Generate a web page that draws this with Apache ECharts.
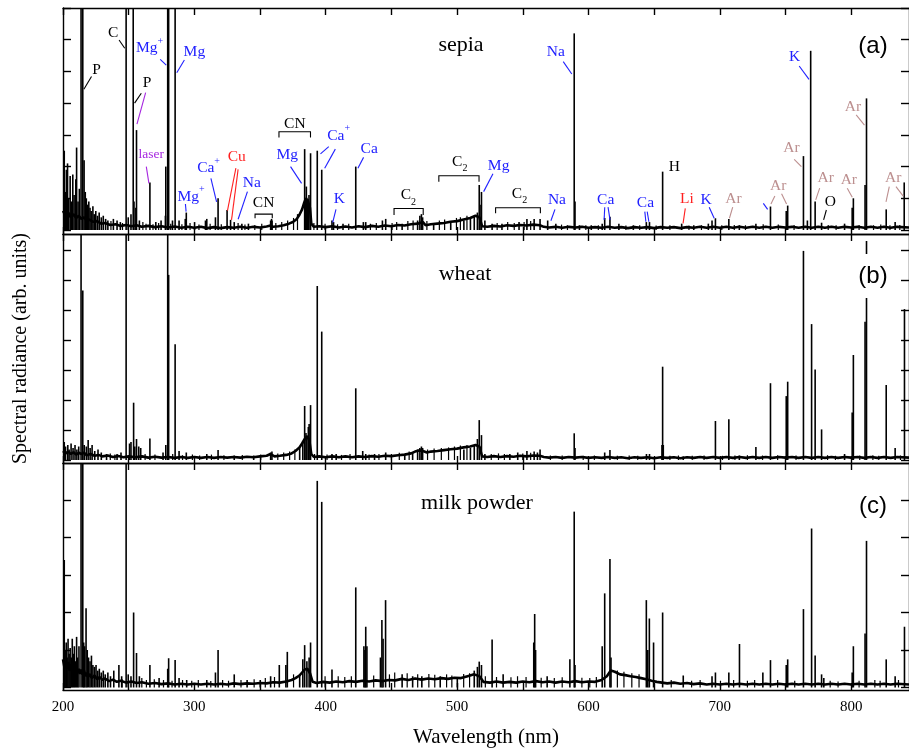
<!DOCTYPE html>
<html>
<head>
<meta charset="utf-8">
<title>LIBS spectra</title>
<script src="https://cdn.jsdelivr.net/npm/echarts@6/dist/echarts.min.js"></script>
<style>
html, body { margin: 0; padding: 0; background: #fff; }
#chart { width: 909px; height: 749px; }
</style>
</head>
<body>
<div id="chart"></div>
<script>
// ---- axis ticks ----
const X_TICKS = [200, 250, 300, 350, 400, 450, 500, 550, 600, 650, 700, 750, 800];
const X_LABELS = [200, 300, 400, 500, 600, 700, 800];
const Y_TICKS_A = [0, 1, 2, 3, 4, 5, 6, 7];
const Y_TICKS_B = [0, 1, 2, 3, 4, 5, 6, 7];
const Y_TICKS_C = [0, 1, 2, 3, 4, 5];

// ---- sepia: emission lines [nm, intensity] ----
const SEPIA_LINES = [
  [200.8,2.5],[201.6,1.2],[202.4,1.9],[203.3,2.1],[204.1,1.0],[205.3,1.7],[206.2,0.9],[207.3,1.75],
  [208.3,1.1],[209.6,1.6],[210.2,2.6],[211.3,0.9],[212.3,1.3],[213.6,9],[214.9,9],[215.9,2.2],
  [216.8,1.2],[217.6,1.0],[218.6,0.8],[219.5,0.9],[220.4,0.7],[221.3,0.6],[222.6,0.75],[223.6,0.5],
  [224.8,0.6],[226.1,0.45],[227.4,0.55],[229.0,0.4],[230.5,0.45],[232.3,0.35],[234.0,0.3],
  [238.2,0.35],[241.0,0.3],[243.5,0.25],[247.9,9],[249.5,0.4],[251.6,0.5],[253.3,9],[253.9,0.9],
  [255.3,0.7],[255.8,3.15],[258.0,0.3],[266.0,1.5],[270.5,0.25],[274.5,0.3],[277.8,0.45],[278.1,2.0],
  [279.55,9],[280.27,9],[283.2,0.3],[285.2,9],[288.2,0.3],[292.9,0.35],[293.7,0.55],[300.0,0.25],
  [308.3,0.3],[309.3,0.35],[315.9,0.4],[317.9,1.0],[324.75,0.63],[327.4,0.32],[330.2,0.25],[336.0,0.2],
  [341.0,0.2],[357.9,0.3],[358.6,0.35],[359.0,0.3],[383.8,2.55],[384.6,1.0],[385.1,1.37],[386.0,0.9],
  [386.6,0.97],[387.1,1.1],[388.3,2.42],[393.4,2.5],[396.8,1.9],[404.6,0.3],[405.8,0.25],[413.0,0.2],
  [422.7,2.0],[428.5,0.25],[430.3,0.25],[443.0,0.3],[445.5,0.35],[458.0,0.2],[469.8,0.3],[471.5,0.45],
  [472.7,0.5],[473.6,0.4],[482.0,0.2],[495.0,0.25],[505.0,0.3],[510.0,0.35],[512.9,0.45],[515.3,0.55],
  [516.7,1.42],[517.3,0.8],[518.4,1.2],[521.0,0.3],[526.5,0.2],[534.0,0.2],[547.0,0.25],[553.0,0.35],
  [558.5,0.35],[563.0,0.35],[568.8,0.3],[575.0,0.2],[589.0,6.2],[589.6,0.9],[593.0,0.15],[602.0,0.15],
  [610.3,0.2],[612.2,0.38],[616.2,0.42],[623.0,0.2],[634.0,0.15],[643.9,0.25],[646.3,0.25],[656.3,1.84],
  [670.8,0.2],[680.0,0.15],[691.1,0.2],[693.9,0.3],[696.5,0.37],[706.7,0.35],[714.7,0.15],[727.3,0.2],
  [738.4,0.74],[750.4,0.6],[751.5,0.77],[763.5,2.33],[766.5,0.3],[769.0,5.65],[772.4,0.9],[777.3,0.23],
  [794.8,0.2],[800.6,0.7],[801.5,1.0],[810.4,1.42],[811.5,4.15],[826.5,0.65],[833.3,0.25],[840.2,1.5]
];
// weak lines riding on the sepia noise floor
const SEPIA_MINOR = [
  [236.5,0.28],[245.3,0.22],[260.8,0.25],[263.2,0.2],[268.5,0.18],[272.8,0.22],[282.0,0.2],[290.5,0.18],
  [296.7,0.22],[303.5,0.17],[312.0,0.2],[320.5,0.18],[333.3,0.22],[338.5,0.17],[346.0,0.16],[351.3,0.2],
  [362.0,0.22],[366.5,0.25],[371.0,0.3],[375.5,0.38],[378.5,0.5],[391.0,0.22],[399.5,0.2],[409.0,0.18],
  [417.5,0.2],[434.0,0.2],[438.5,0.22],[450.5,0.22],[454.0,0.25],[462.5,0.28],[466.5,0.3],[477.0,0.28],
  [486.5,0.3],[490.5,0.33],[499.5,0.38],[502.5,0.4],[507.5,0.45],[530.5,0.22],[538.5,0.25],[543.5,0.22],
  [551.0,0.25],[556.0,0.28],[579.5,0.17],[584.0,0.15],[598.0,0.15],[607.5,0.15],[628.5,0.14],[639.0,0.15],
  [651.5,0.14],[662.0,0.15],[676.5,0.14],[686.0,0.15],[701.5,0.15],[711.0,0.16],[719.5,0.15],[733.0,0.18],
  [744.5,0.17],[756.5,0.16],[782.5,0.16],[788.5,0.15],[806.0,0.16],[817.0,0.15],[822.5,0.17],[829.5,0.15],
  [837.0,0.16]
];
// continuum / noise floor under the sepia lines
const SEPIA_FLOOR = [
  [200,0.6],[202,0.45],[204,0.55],[206,0.4],[208,0.5],[210,0.38],[212,0.45],[214,0.35],[216,0.4],
  [218,0.3],[220,0.33],[223,0.26],[226,0.28],[229,0.2],[232,0.22],[236,0.16],[240,0.18],[244,0.13],
  [248,0.16],[252,0.12],[256,0.15],[260,0.1],[265,0.13],[270,0.09],[275,0.12],[280,0.08],[285,0.11],
  [290,0.07],[295,0.1],[300,0.07],[305,0.1],[310,0.06],[315,0.09],[320,0.06],[325,0.09],[330,0.07],
  [335,0.1],[340,0.07],[345,0.1],[350,0.08],[355,0.11],[358,0.14],[360,0.1],[364,0.12],[368,0.15],
  [372,0.2],[375,0.25],[378,0.35],[380,0.48],[382,0.65],[383.5,0.85],[385,1.0],[386.5,0.9],[388,0.7],
  [389,0.2],[391,0.1],[395,0.12],[400,0.09],[405,0.12],[410,0.08],[415,0.11],[420,0.08],[425,0.12],
  [430,0.09],[435,0.13],[440,0.1],[445,0.14],[450,0.12],[455,0.16],[460,0.14],[465,0.18],[470,0.2],
  [474,0.25],[476,0.15],[480,0.18],[485,0.2],[490,0.22],[495,0.26],[500,0.28],[505,0.33],[510,0.38],
  [514,0.45],[517,0.4],[519,0.12],[523,0.1],[528,0.13],[533,0.11],[538,0.15],[543,0.13],[548,0.16],
  [553,0.14],[558,0.17],[563,0.15],[566,0.1],[570,0.08],[575,0.1],[580,0.07],[585,0.1],[590,0.08],
  [595,0.1],[600,0.07],[605,0.09],[610,0.07],[615,0.1],[620,0.07],[625,0.09],[630,0.06],[635,0.09],
  [640,0.07],[645,0.09],[650,0.06],[655,0.09],[660,0.07],[665,0.09],[670,0.06],[675,0.09],[680,0.07],
  [685,0.1],[690,0.07],[695,0.1],[700,0.07],[705,0.1],[710,0.07],[715,0.1],[720,0.07],[725,0.1],
  [730,0.07],[735,0.1],[740,0.07],[745,0.1],[750,0.08],[755,0.1],[760,0.07],[765,0.1],[770,0.07],
  [775,0.1],[780,0.07],[785,0.1],[790,0.07],[795,0.1],[800,0.08],[805,0.1],[810,0.07],[815,0.1],
  [820,0.07],[825,0.1],[830,0.07],[835,0.1],[844,0.08]
];

// ---- wheat ----
const WHEAT_LINES = [
  [200.8,0.6],[201.8,0.45],[203.5,0.5],[204.5,0.35],[206.0,0.55],[207.5,0.4],[209.0,0.5],[210.4,0.35],
  [211.8,0.45],[213.6,8],[214.9,5.65],[216.0,0.5],[217.6,0.45],[219.0,0.67],[220.5,0.4],[222.0,0.5],
  [224.0,0.3],[226.5,0.35],[229.0,0.25],[233.0,0.2],[241.0,0.2],[244.0,0.25],[247.9,8],[250.5,0.55],
  [251.6,0.6],[253.6,1.91],[254.5,0.45],[255.8,0.7],[257.5,0.45],[259.0,0.4],[266.0,0.72],[276.0,0.25],
  [278.1,0.5],[279.55,8],[280.27,6.17],[285.2,3.86],[288.2,0.3],[293.7,0.25],[309.3,0.2],[317.9,0.33],
  [330.2,0.15],[345.0,0.15],[357.9,0.25],[358.9,0.28],[380.0,0.4],[382.4,0.6],[383.8,1.8],[384.8,0.9],
  [385.5,0.8],[386.6,1.1],[387.2,1.2],[388.3,1.83],[393.4,5.8],[396.8,4.28],[404.6,0.2],[407.8,0.2],
  [422.7,2.39],[428.0,0.3],[430.3,0.2],[437.0,0.2],[445.5,0.25],[460.0,0.2],[466.0,0.25],[469.8,0.35],
  [471.5,0.4],[472.7,0.45],[473.6,0.4],[505.0,0.35],[510.0,0.4],[512.9,0.5],[515.3,0.7],[516.7,1.33],
  [518.4,0.83],[521.0,0.2],[540.0,0.2],[546.0,0.25],[553.0,0.3],[558.5,0.28],[561.0,0.25],[563.0,0.35],
  [589.0,0.89],[589.6,0.4],[612.2,0.25],[616.2,0.33],[644.0,0.2],[646.3,0.2],[655.8,0.5],[656.3,3.11],
  [656.8,0.5],[672.0,0.12],[696.5,1.3],[706.7,1.36],[714.7,0.15],[727.3,0.43],[738.4,2.56],[750.4,2.13],
  [751.5,2.61],[763.5,6.97],[769.7,4.53],[772.4,3.02],[777.3,1.02],[794.8,0.2],[800.6,1.58],[801.5,3.5],
  [810.4,4.61],[811.5,7.3],[826.5,2.5],[833.3,0.4],[840.4,5.03]
];
const WHEAT_MINOR = [
  [236.0,0.22],[239.5,0.18],[262.5,0.2],[270.0,0.18],[283.5,0.2],[291.0,0.16],[298.5,0.18],[304.0,0.15],
  [313.0,0.18],[322.5,0.16],[336.5,0.17],[350.5,0.18],[363.5,0.22],[368.0,0.25],[372.5,0.28],[376.5,0.35],
  [391.5,0.2],[401.0,0.18],[412.0,0.17],[418.5,0.2],[433.0,0.18],[440.5,0.2],[450.0,0.2],[456.0,0.24],
  [463.5,0.28],[477.5,0.35],[482.5,0.38],[488.0,0.4],[493.5,0.42],[498.0,0.45],[502.5,0.48],[507.5,0.5],
  [526.0,0.2],[531.5,0.22],[536.0,0.2],[550.0,0.22],[556.0,0.24],[571.0,0.15],[580.0,0.15],[596.0,0.14],
  [604.5,0.15],[622.0,0.14],[631.0,0.15],[637.5,0.14],[662.0,0.14],[668.5,0.15],[679.0,0.14],[688.0,0.15],
  [702.0,0.14],[711.5,0.15],[721.0,0.16],[732.5,0.15],[744.0,0.16],[758.0,0.15],[782.0,0.16],[788.0,0.14],
  [806.5,0.15],[816.5,0.16],[821.0,0.14],[837.5,0.15]
];
const WHEAT_FLOOR = [
  [200,0.3],[202,0.22],[204,0.28],[206,0.2],[208,0.26],[210,0.18],[212,0.24],[214,0.2],[216,0.24],
  [218,0.16],[221,0.2],[224,0.14],[227,0.17],[230,0.12],[234,0.15],[238,0.1],[242,0.13],[246,0.09],
  [250,0.12],[255,0.09],[260,0.12],[265,0.08],[270,0.11],[275,0.08],[280,0.1],[285,0.07],[290,0.1],
  [295,0.07],[300,0.1],[305,0.07],[310,0.1],[315,0.07],[320,0.1],[325,0.08],[330,0.1],[335,0.08],
  [340,0.11],[345,0.09],[350,0.12],[355,0.14],[358,0.2],[361,0.12],[365,0.14],[370,0.17],[374,0.22],
  [377,0.3],[380,0.42],[382,0.55],[384,0.7],[386,0.8],[387.5,0.65],[389,0.2],[391,0.1],[395,0.12],
  [400,0.09],[405,0.12],[410,0.09],[415,0.12],[420,0.09],[425,0.12],[430,0.1],[435,0.13],[440,0.11],
  [445,0.14],[450,0.13],[455,0.16],[460,0.18],[465,0.22],[468,0.28],[471,0.32],[474,0.3],[477,0.25],
  [480,0.28],[485,0.3],[490,0.33],[495,0.36],[500,0.38],[505,0.42],[510,0.45],[514,0.5],[517,0.45],
  [519,0.12],[523,0.1],[528,0.13],[533,0.1],[538,0.13],[543,0.11],[548,0.14],[553,0.12],[558,0.15],
  [563,0.14],[566,0.1],[570,0.08],[575,0.1],[580,0.07],[585,0.1],[590,0.08],[595,0.1],[600,0.07],
  [605,0.09],[610,0.07],[615,0.1],[620,0.07],[625,0.09],[630,0.06],[635,0.09],[640,0.07],[645,0.09],
  [650,0.06],[655,0.09],[660,0.07],[665,0.09],[670,0.06],[675,0.09],[680,0.07],[685,0.1],[690,0.07],
  [695,0.1],[700,0.07],[705,0.1],[710,0.07],[715,0.1],[720,0.07],[725,0.1],[730,0.07],[735,0.1],
  [740,0.07],[745,0.1],[750,0.08],[755,0.1],[760,0.07],[765,0.1],[770,0.07],[775,0.1],[780,0.07],
  [785,0.1],[790,0.07],[795,0.1],[800,0.08],[805,0.1],[810,0.07],[815,0.1],[820,0.07],[825,0.1],
  [830,0.07],[835,0.1],[844,0.08]
];

// ---- milk powder ----
const MILK_LINES = [
  [200.8,3.4],[201.5,1.0],[202.3,1.2],[203.0,0.8],[203.7,1.3],[204.5,0.9],[205.3,1.05],[206.1,0.8],
  [206.9,1.3],[207.7,0.9],[208.5,1.1],[209.3,0.7],[210.2,1.35],[211.0,0.8],[212.0,1.1],[213.6,7],
  [214.9,7],[215.6,1.2],[216.3,1.1],[217.4,2.11],[218.3,1.0],[219.3,0.8],[220.4,0.7],[221.5,0.85],
  [222.6,0.6],[223.8,0.55],[225.0,0.6],[226.3,0.45],[227.5,0.5],[229.0,0.4],[230.5,0.45],[232.0,0.35],
  [234.0,0.4],[236.0,0.3],[238.5,0.45],[242.4,0.6],[244.5,0.3],[247.9,7],[249.5,0.35],[251.6,0.3],
  [253.6,2.0],[255.8,0.92],[258.0,0.3],[266.0,0.6],[273.0,0.25],[279.55,0.5],[280.27,0.78],[285.2,0.73],
  [288.2,0.25],[294.0,0.2],[309.3,0.2],[315.9,0.4],[317.9,1.0],[330.2,0.35],[340.0,0.2],[350.0,0.2],
  [357.9,0.3],[364.5,0.6],[369.5,0.6],[370.6,0.95],[380.0,0.35],[382.4,0.75],[383.8,1.13],[385.5,0.7],
  [387.2,0.8],[388.3,1.2],[393.4,5.51],[396.8,4.95],[404.6,0.48],[422.7,2.67],[428.9,1.1],[429.7,1.0],
  [430.3,1.62],[431.2,1.1],[441.5,0.8],[442.6,1.8],[443.5,1.3],[445.4,2.33],[458.0,0.35],[466.0,0.3],
  [473.0,0.3],[487.0,0.3],[500.0,0.25],[512.9,0.45],[515.3,0.55],[516.7,0.69],[518.4,0.6],[526.5,1.28],
  [534.9,0.35],[558.2,1.2],[558.9,1.96],[559.6,1.0],[568.4,0.3],[585.7,0.75],[589.0,4.69],[589.6,0.6],
  [610.3,1.1],[612.2,2.51],[616.2,3.43],[617.0,0.8],[643.9,2.33],[645.0,1.0],[646.2,1.84],[649.4,1.2],
  [656.3,2.0],[672.0,0.32],[693.9,0.3],[696.5,0.4],[706.7,0.4],[714.8,1.16],[732.6,0.4],[738.4,0.73],
  [750.4,0.6],[751.5,0.75],[763.5,2.09],[769.7,4.24],[772.4,0.85],[777.3,0.35],[779.0,0.25],[800.6,0.4],
  [801.5,1.1],[810.4,1.44],[811.5,3.91],[826.5,0.75],[833.3,0.3],[840.4,1.62]
];
const MILK_MINOR = [
  [245.0,0.22],[260.0,0.25],[263.5,0.2],[269.5,0.22],[276.5,0.2],[283.0,0.18],[291.0,0.2],[298.0,0.18],
  [303.0,0.2],[312.5,0.17],[321.5,0.2],[326.0,0.18],[335.5,0.2],[345.5,0.22],[354.0,0.25],[361.0,0.28],
  [375.5,0.35],[399.5,0.3],[409.5,0.3],[414.5,0.28],[419.5,0.3],[436.5,0.32],[448.5,0.35],[452.5,0.4],
  [462.0,0.38],[470.0,0.35],[478.5,0.36],[483.0,0.34],[492.0,0.35],[496.0,0.32],[505.0,0.36],[509.5,0.38],
  [521.5,0.3],[530.0,0.28],[541.0,0.27],[546.0,0.3],[552.5,0.28],[564.0,0.26],[574.0,0.25],[580.0,0.27],
  [595.0,0.26],[601.0,0.25],[606.0,0.28],[622.0,0.45],[627.0,0.42],[633.0,0.38],[638.5,0.35],[663.0,0.2],
  [678.5,0.18],[685.0,0.2],[700.5,0.18],[710.5,0.2],[721.0,0.18],[726.5,0.2],[744.0,0.2],[757.0,0.18],
  [784.0,0.18],[790.0,0.16],[806.0,0.18],[818.0,0.2],[822.0,0.18],[836.0,0.2]
];
const MILK_FLOOR = [
  [200,0.75],[201,0.55],[202,0.7],[203,0.5],[204,0.68],[205,0.45],[206,0.62],[207,0.42],[208,0.58],
  [209,0.4],[210,0.55],[211,0.38],[212,0.5],[213,0.36],[214,0.48],[215,0.34],[216,0.45],[217,0.3],
  [218,0.4],[219,0.28],[220,0.36],[222,0.25],[224,0.32],[226,0.22],[228,0.28],[230,0.2],[232,0.24],
  [235,0.17],[238,0.21],[241,0.15],[244,0.18],[248,0.13],[252,0.16],[256,0.12],[260,0.14],[265,0.1],
  [270,0.12],[275,0.09],[280,0.11],[285,0.08],[290,0.1],[295,0.08],[300,0.1],[305,0.08],[310,0.1],
  [315,0.08],[320,0.1],[325,0.08],[330,0.11],[335,0.09],[340,0.11],[345,0.1],[350,0.12],[355,0.11],
  [360,0.14],[365,0.13],[370,0.16],[374,0.2],[377,0.25],[380,0.32],[382,0.4],[384,0.48],[386,0.5],
  [388,0.38],[390,0.15],[393,0.12],[398,0.15],[403,0.13],[408,0.16],[413,0.14],[418,0.17],[423,0.15],
  [428,0.18],[433,0.16],[438,0.19],[443,0.17],[448,0.2],[453,0.19],[458,0.23],[463,0.2],[468,0.24],
  [473,0.21],[478,0.24],[483,0.22],[488,0.25],[493,0.23],[498,0.26],[503,0.25],[508,0.3],[513,0.35],
  [517,0.3],[520,0.15],[525,0.13],[530,0.16],[535,0.13],[540,0.15],[545,0.13],[550,0.16],[555,0.14],
  [560,0.17],[565,0.14],[570,0.16],[575,0.13],[580,0.16],[585,0.14],[590,0.17],[595,0.14],[600,0.16],
  [605,0.15],[610,0.2],[614,0.3],[617,0.45],[620,0.42],[624,0.35],[628,0.33],[632,0.3],[636,0.28],
  [640,0.25],[644,0.22],[648,0.18],[652,0.15],[656,0.13],[660,0.11],[665,0.13],[670,0.1],[675,0.12],
  [680,0.09],[685,0.11],[690,0.08],[695,0.1],[700,0.08],[705,0.1],[710,0.08],[715,0.1],[720,0.08],
  [725,0.1],[730,0.08],[735,0.1],[740,0.08],[745,0.1],[750,0.08],[755,0.1],[760,0.08],[765,0.1],
  [770,0.08],[775,0.1],[780,0.08],[785,0.1],[790,0.08],[795,0.1],[800,0.08],[805,0.1],[810,0.08],
  [815,0.1],[820,0.08],[825,0.1],[830,0.08],[835,0.1],[844,0.08]
];

// ---- sepia line assignments: [text, colour, nm, intensity] ----
const SEPIA_TAGS = [
  ['P','k',225.5,5.05],['C','k',238.1,6.2],['Mg{sup|+}','b',265.9,5.73],['Mg','b',300,5.62],
  ['P','k',263.9,4.63],['laser','v',267.2,2.37],['Mg{sup|+}','b',297.5,1.05],['Ca{sup|+}','b',310.8,1.95],
  ['Cu','r',332.3,2.31],['Na','b',343.7,1.49],['Mg','b',370.7,2.37],['Ca{sup|+}','b',409.8,2.97],
  ['Ca','b',433.1,2.55],['K','b',410.4,0.97],['Mg','b',531.6,2.03],['Na','b',576,0.95],
  ['Na','b',575.2,5.62],['Ca','b',613.1,0.95],['Ca','b',643.4,0.84],['H','k',665.4,2.0],
  ['Li','r',675,0.97],['K','b',689.6,0.95],['Ar','a',710.4,0.97],['Ar','a',744.5,1.4],
  ['Ar','a',754.5,2.58],['K','b',757,5.47],['Ar','a',780.6,1.63],['O','k',784.1,0.89],
  ['Ar','a',798.2,1.58],['Ar','a',801.3,3.89],['Ar','a',832,1.63]
];
// pointer strokes from a tag to its line: [colour, nm1, int1, nm2, int2]
const SEPIA_POINTERS = [
  ['k',221.7,4.84,215.9,4.44],['k',242.7,5.99,247,5.73],['b',274,5.38,278.6,5.2],['b',292.4,5.36,286.6,4.96],
  ['k',259.6,4.31,254.5,4.0],['v',262.9,4.33,256.3,3.34],['v',263.4,2.0,265.4,1.47],['b',293.2,0.82,293.7,0.58],
  ['b',312.6,1.63,316.9,0.89],['r',331.6,1.95,325.2,0.61],['r',333.3,1.91,328.3,0.32],['b',340.4,1.21,333.3,0.34],
  ['b',373.2,2.0,381.6,1.47],['b',402.3,2.63,396,2.4],['b',407.3,2.55,399.2,1.95],['b',428.8,2.29,424.5,1.95],
  ['b',407.8,0.65,405.3,0.23],['b',527.3,1.77,520.2,1.21],['b',574.5,0.65,571.4,0.29],['b',580.8,5.31,587.3,4.92],
  ['b',612.4,0.72,611.9,0.32],['b',614.9,0.72,616.4,0.32],['b',642.9,0.58,643.7,0.26],['b',644.7,0.58,646,0.26],
  ['r',673.7,0.68,672,0.21],['b',691.9,0.72,695.7,0.37],['a',709.8,0.72,707.3,0.37],['b',733.1,0.84,736.4,0.65],
  ['a',741.9,1.07,738.9,0.82],['a',747,1.14,750.8,0.82],['a',756.6,2.23,762.1,2.0],['b',760.4,5.17,767.9,4.75],
  ['a',776,1.32,773,0.95],['k',781.1,0.63,779,0.32],['a',797,1.32,800.8,1.03],['a',803.8,3.63,810.1,3.31],
  ['a',829,1.37,826.5,0.89],['a',834.1,1.37,839.6,1.07]
];
// molecular bands: [nm start, nm end, bar level, foot level, text, text nm, text level]
const SEPIA_BANDS = [
  [346.2,359.3,0.5,0.37,'CN',352.7,0.84],
  [364.4,388.4,3.1,2.92,'CN',376.5,3.34],
  [452.0,474.2,0.68,0.47,'C{sub|2}',462.9,1.1],
  [486.1,516.7,1.71,1.52,'C{sub|2}',502.0,2.15],
  [529.3,563.4,0.7,0.53,'C{sub|2}',547.5,1.14]
];

const COLOURS = { k: '#000000', b: '#2121ff', r: '#ff1f1f', v: '#a626e0', a: '#bc8f8f' };
const SERIF = '"Liberation Serif", "Times New Roman", serif';
const SANS = '"Liberation Sans", Arial, Helvetica, sans-serif';
const RICH = {
  sup: { fontFamily: SERIF, fontSize: 10, verticalAlign: 'top' },
  sub: { fontFamily: SERIF, fontSize: 10, verticalAlign: 'bottom' }
};

const X_MAX = 844;
const AXIS_LINE = { color: '#000', width: 1.4 };
const GRIDS = [
  { left: 63, right: -4, top: 8, height: 226 },
  { left: 63, right: -4, top: 234, height: 229 },
  { left: 63, right: -4, top: 463, height: 227 }
];
const Y_RANGES = [[-0.126, 7.0], [-0.1, 7.533], [-0.067, 5.987]];
const Y_TICKS = [Y_TICKS_A, Y_TICKS_B, Y_TICKS_C];

const xAxis = [];
const yAxis = [];
GRIDS.forEach(function (g, i) {
  ['bottom', 'top'].forEach(function (pos) {
    const withLabels = (i === 2 && pos === 'bottom');
    xAxis.push({
      type: 'value', gridIndex: i, position: pos, min: 200, max: X_MAX,
      axisLine: { show: true, onZero: false, lineStyle: AXIS_LINE },
      axisTick: { show: true, inside: true, length: 7, customValues: X_TICKS, lineStyle: AXIS_LINE },
      axisLabel: {
        show: withLabels, customValues: X_LABELS, margin: 10,
        fontFamily: SERIF, fontSize: 15, color: '#000'
      },
      splitLine: { show: false },
      name: withLabels ? 'Wavelength (nm)' : '',
      nameLocation: 'middle', nameGap: 37,
      nameTextStyle: { fontFamily: SERIF, fontSize: 21, color: '#000' }
    });
  });
  ['left', 'right'].forEach(function (pos) {
    const withName = (i === 1 && pos === 'left');
    yAxis.push({
      type: 'value', gridIndex: i, position: pos,
      min: Y_RANGES[i][0], max: Y_RANGES[i][1],
      axisLine: { show: true, onZero: false, lineStyle: AXIS_LINE },
      axisTick: { show: true, inside: true, length: 8, customValues: Y_TICKS[i], lineStyle: AXIS_LINE },
      axisLabel: { show: false },
      splitLine: { show: false },
      name: withName ? 'Spectral radiance (arb. units)' : '',
      nameLocation: 'middle', nameRotate: 90, nameGap: 32,
      nameTextStyle: { fontFamily: SERIF, fontSize: 20, color: '#000' }
    });
  });
});

const series = [];
[
  [SEPIA_LINES, SEPIA_MINOR, SEPIA_FLOOR],
  [WHEAT_LINES, WHEAT_MINOR, WHEAT_FLOOR],
  [MILK_LINES, MILK_MINOR, MILK_FLOOR]
].forEach(function (set, i) {
  series.push({
    type: 'bar', xAxisIndex: 2 * i, yAxisIndex: 2 * i,
    data: set[0], barWidth: 1.6, barGap: '-100%', itemStyle: { color: '#000' },
    silent: true, clip: true
  });
  series.push({
    type: 'bar', xAxisIndex: 2 * i, yAxisIndex: 2 * i,
    data: set[1], barWidth: 1.2, barGap: '-100%', itemStyle: { color: '#000' },
    silent: true, clip: true
  });
  series.push({
    type: 'line', xAxisIndex: 2 * i, yAxisIndex: 2 * i,
    data: set[2], showSymbol: false, clip: true,
    lineStyle: { color: '#000', width: 2.6 }, silent: true
  });
});

// element tags
series.push({
  type: 'custom', xAxisIndex: 0, yAxisIndex: 0, silent: true, z: 10,
  data: SEPIA_TAGS.map(function (t) { return [t[2], t[3]]; }),
  renderItem: function (params, api) {
    const t = SEPIA_TAGS[params.dataIndex];
    const p = api.coord([t[2], t[3]]);
    return {
      type: 'text', x: p[0], y: p[1],
      style: {
        text: t[0], fill: COLOURS[t[1]], fontFamily: SERIF,
        fontSize: t[0] === 'laser' ? 13.5 : 15.5, lineHeight: 24,
        align: 'center', verticalAlign: 'middle', rich: RICH
      }
    };
  }
});
// pointer strokes
series.push({
  type: 'custom', xAxisIndex: 0, yAxisIndex: 0, silent: true, z: 10,
  data: SEPIA_POINTERS.map(function (t) { return [t[1], t[2]]; }),
  renderItem: function (params, api) {
    const t = SEPIA_POINTERS[params.dataIndex];
    const a = api.coord([t[1], t[2]]);
    const b = api.coord([t[3], t[4]]);
    return {
      type: 'line',
      shape: { x1: a[0], y1: a[1], x2: b[0], y2: b[1] },
      style: { stroke: COLOURS[t[0]], lineWidth: 1.1 }
    };
  }
});
// band brackets
series.push({
  type: 'custom', xAxisIndex: 0, yAxisIndex: 0, silent: true, z: 10,
  data: SEPIA_BANDS.map(function (t) { return [t[0], t[2]]; }),
  renderItem: function (params, api) {
    const t = SEPIA_BANDS[params.dataIndex];
    const a = api.coord([t[0], t[2]]);
    const b = api.coord([t[1], t[2]]);
    const foot = api.coord([t[0], t[3]])[1];
    const lbl = api.coord([t[5], t[6]]);
    return {
      type: 'group',
      children: [
        {
          type: 'polyline',
          shape: { points: [[a[0], foot], [a[0], a[1]], [b[0], b[1]], [b[0], foot]] },
          style: { stroke: '#000', lineWidth: 1.1, fill: null }
        },
        {
          type: 'text', x: lbl[0], y: lbl[1],
          style: {
            text: t[4], fill: '#000', fontFamily: SERIF, fontSize: 15.5, lineHeight: 24,
            align: 'center', verticalAlign: 'middle', rich: RICH
          }
        }
      ]
    };
  }
});

function caption(text, x, y, font, size) {
  return {
    type: 'text', x: x, y: y, z: 100,
    style: { text: text, fill: '#000', fontFamily: font, fontSize: size, align: 'center', verticalAlign: 'middle' }
  };
}
const panelB = caption('(b)', 873, 276, SANS, 24);
panelB.style.backgroundColor = '#fff';
panelB.style.padding = [10, 3];

const chart = echarts.init(document.getElementById('chart'));
chart.setOption({
  animation: false,
  backgroundColor: '#fff',
  grid: GRIDS,
  xAxis: xAxis,
  yAxis: yAxis,
  series: series,
  graphic: [
    caption('sepia', 461, 45, SERIF, 22),
    caption('wheat', 465, 274, SERIF, 22),
    caption('milk powder', 477, 503, SERIF, 22),
    caption('(a)', 873, 46, SANS, 24),
    panelB,
    caption('(c)', 873, 506, SANS, 24)
  ]
});
</script>
</body>
</html>
